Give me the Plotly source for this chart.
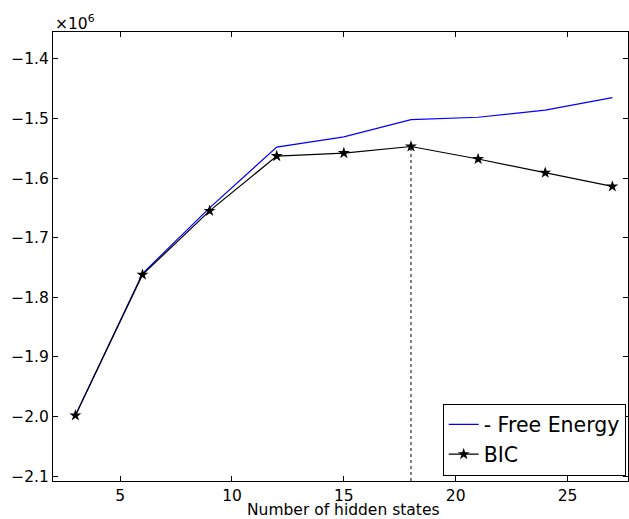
import plotly.graph_objects as go

hidden_states = [3, 6, 9, 12, 15, 18, 21, 24, 27]
free_energy = [-1.998, -1.760, -1.650, -1.548, -1.531, -1.502, -1.498, -1.486, -1.465]  # x1e6
bic = [-1.998, -1.762, -1.655, -1.563, -1.558, -1.547, -1.568, -1.591, -1.614]  # x1e6

y_ticks = [-2.1, -2.0, -1.9, -1.8, -1.7, -1.6, -1.5, -1.4]
y_ticktext = [f"\u2212{abs(v):.1f}" for v in y_ticks]
x_ticks = [5, 10, 15, 20, 25]

x_range = [2, 27.7]
y_range = [-2.108, -1.355]

font = dict(family="DejaVu Sans", size=15.5, color="black")

fig = go.Figure()
fig.add_trace(go.Scatter(x=hidden_states, y=free_energy, mode="lines",
                         name="- Free Energy", line=dict(color="#0000ff", width=1.2)))
fig.add_trace(go.Scatter(x=hidden_states, y=bic, mode="lines+markers",
                         name="BIC", line=dict(color="black", width=1.2),
                         marker=dict(symbol="star", size=9, color="black")))

best = max(range(len(bic)), key=lambda i: bic[i])
fig.add_shape(type="line", xref="x", yref="y",
              x0=hidden_states[best], x1=hidden_states[best],
              y0=y_range[0], y1=bic[best],
              line=dict(color="black", width=1, dash="dot"))

fig.add_annotation(text="\u00d710<sup>6</sup>", xref="paper", yref="paper",
                   x=0, y=1, xanchor="left", yanchor="bottom", showarrow=False,
                   font=dict(family="DejaVu Sans", size=15.5, color="black"), yshift=-3)

fig.add_annotation(text="Number of hidden states", xref="paper", yref="paper",
                   x=0.5, y=0, xanchor="center", yanchor="top", showarrow=False,
                   font=font, yshift=-19, xshift=3, borderpad=0)

axis_common = dict(showline=True, linecolor="black", linewidth=1, mirror="allticks",
                   ticks="inside", ticklen=5, tickcolor="black", showgrid=False,
                   zeroline=False, tickfont=font)

fig.update_layout(
    width=629, height=519,
    margin=dict(l=53, r=1, t=32, b=38),
    plot_bgcolor="white", paper_bgcolor="white",
    font=font,
    showlegend=True,
    legend=dict(x=0.996, y=0.012, xanchor="right", yanchor="bottom",
                bordercolor="black", borderwidth=1, bgcolor="white",
                font=dict(family="DejaVu Sans", size=20.5, color="black")),
    xaxis=dict(range=x_range, tickvals=x_ticks, **axis_common),
    yaxis=dict(range=y_range, tickvals=y_ticks, ticktext=y_ticktext, **axis_common),
)

fig.write_html("out.html", config={"displayModeBar": False},
               post_script="document.body.style.margin='0';document.body.style.overflow='hidden';")
